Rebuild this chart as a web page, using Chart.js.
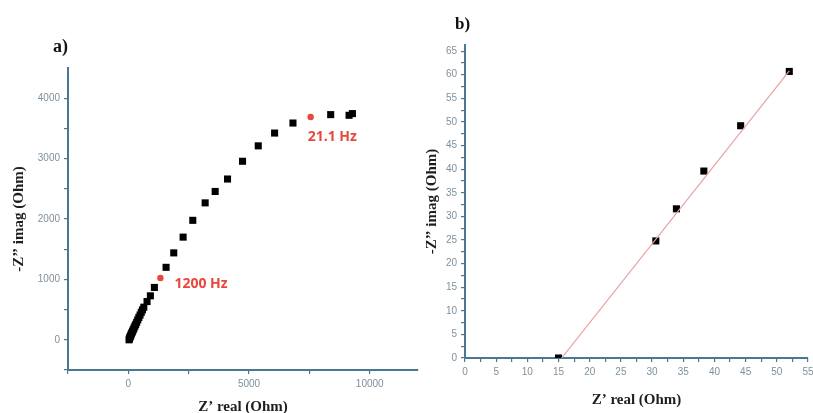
<!DOCTYPE html>
<html>
<head>
<meta charset="utf-8">
<script src="https://cdn.jsdelivr.net/npm/chart.js@4.4.1/dist/chart.umd.min.js"></script>
<style>
  html, body { margin: 0; padding: 0; background: #fff; overflow: hidden; }
  #wrap { position: relative; width: 813px; height: 413px; }
  canvas { position: absolute; top: 0; }
  #nyquist { left: 0; }
  #zoomed { left: 420px; }
</style>
</head>
<body>
<div id="wrap">
  <canvas id="nyquist" width="425" height="413"></canvas>
  <canvas id="zoomed" width="393" height="413"></canvas>
</div>
<script>
// panel a) full Nyquist plot, values in Ohm
const realA = [30, 45, 60, 80, 100, 125, 150, 175, 205, 235, 270, 305, 345, 390, 435, 485, 535, 585, 640,
               775, 913, 1079, 1563, 1881, 2269, 2670, 3182, 3597, 4109, 4731, 5382, 6059, 6820,
               8383, 9144, 9283];
const imagA = [0, 18, 35, 55, 75, 98, 120, 142, 168, 195, 225, 255, 290, 330, 370, 410, 455, 495, 540,
               633, 728, 867, 1200, 1439, 1700, 1978, 2267, 2456, 2662, 2956, 3211, 3423, 3589,
               3728, 3717, 3745];
// marked frequencies
const markLabels = ['1200 Hz', '21.1 Hz'];
const markReal = [1328, 7553];
const markImag = [1022, 3689];

// panel b) high frequency part with fit line
const realB = [15, 30.6, 33.9, 38.3, 44.2, 52];
const imagB = [0, 24.8, 31.6, 39.6, 49.2, 60.7];
const fitReal = [15.5, 52];
const fitImag = [0, 60.8];

// tick positions (labelled ones are the majors)
const ticksXA = [-2500, 0, 2500, 5000, 7500, 10000];
const majorsXA = [0, 5000, 10000];
const ticksYA = [-500, 0, 500, 1000, 1500, 2000, 2500, 3000, 3500, 4000];
const majorsYA = [0, 1000, 2000, 3000, 4000];
const ticksB = [0, 2.5, 5, 7.5, 10, 12.5, 15, 17.5, 20, 22.5, 25, 27.5, 30, 32.5, 35, 37.5, 40,
                42.5, 45, 47.5, 50, 52.5, 55, 57.5, 60, 62.5, 65];
const majorsB = [0, 5, 10, 15, 20, 25, 30, 35, 40, 45, 50, 55, 60, 65];

const axisColor = '#4a7890';
const tickColor = '#7f909c';
const red = '#e8473c';

const toPoints = (xs, ys) => xs.map((x, i) => ({x: x, y: ys[i]}));

// draws fixed text labels (panel letters) and annotations next to data points
const textPlugin = {
    id: 'texts',
    afterDatasetsDraw(chart, args, opts) {
        const ctx = chart.ctx;
        ctx.save();
        (opts.items || []).forEach(item => {
            let x = item.x, y = item.y;
            if (item.dataX !== undefined) {
                x = chart.scales.x.getPixelForValue(item.dataX) + item.dx;
                y = chart.scales.y.getPixelForValue(item.dataY) + item.dy;
            }
            ctx.font = item.font;
            ctx.fillStyle = item.color;
            ctx.textAlign = 'left';
            ctx.textBaseline = 'middle';
            ctx.fillText(item.text, x, y);
        });
        ctx.restore();
    }
};

const axis = (min, max, tickList, majors, title, titlePad, titleLh, fixSize, horizontal) => ({
    type: 'linear',
    min: min,
    max: max,
    border: {display: true, color: axisColor, width: 2},
    grid: {drawOnChartArea: false, drawTicks: true, tickLength: 4, color: axisColor, lineWidth: 1.2},
    afterBuildTicks(scale) {
        scale.ticks = tickList.filter(v => v >= min && v <= max).map(v => ({value: v}));
    },
    ticks: {
        autoSkip: false,
        maxRotation: 0,
        padding: 4,
        color: tickColor,
        font: {family: 'Liberation Sans', size: 10},
        callback: v => (majors.includes(v) ? String(v) : '')
    },
    title: {
        display: true,
        text: title,
        color: '#1e1e1e',
        font: {family: 'Liberation Serif', size: 15, weight: 'bold', lineHeight: titleLh},
        padding: {top: titlePad, bottom: titlePad}
    },
    afterFit(scale) {
        if (horizontal) scale.height = fixSize; else scale.width = fixSize;
        scale.paddingLeft = 0;
        scale.paddingRight = 0;
        scale.paddingTop = 0;
        scale.paddingBottom = 0;
    }
});

new Chart(document.getElementById('nyquist').getContext('2d'), {
    type: 'scatter',
    data: {
        datasets: [
            {
                data: toPoints(realA, imagA),
                pointStyle: 'rect',
                pointRadius: 5,
                backgroundColor: '#000',
                borderColor: '#000',
                borderWidth: 0
            },
            {
                data: toPoints(markReal, markImag),
                pointStyle: 'circle',
                pointRadius: 3.2,
                backgroundColor: red,
                borderColor: red,
                borderWidth: 0
            }
        ]
    },
    options: {
        responsive: false,
        animation: false,
        devicePixelRatio: 1,
        layout: {padding: {left: 0, top: 68, right: 7, bottom: 0}},
        plugins: {
            legend: {display: false},
            tooltip: {enabled: false},
            texts: {
                items: [
                    {text: 'a)', x: 53, y: 47, font: 'bold 18px "Liberation Serif"', color: '#111'},
                    {text: markLabels[0], dataX: markReal[0], dataY: markImag[0], dx: 14, dy: 6,
                     font: 'bold 14px "Open Sans"', color: red},
                    {text: markLabels[1], dataX: markReal[1], dataY: markImag[1], dx: -3, dy: 20,
                     font: 'bold 14px "Open Sans"', color: red}
                ]
            }
        },
        scales: {
            x: axis(-2500, 12000, ticksXA, majorsXA, 'Z\u2019 real (Ohm)', 0, 0.8, 43, true),
            y: axis(-500, 4500, ticksYA, majorsYA, '-Z\u2019\u2019 imag (Ohm)', 11, 1.1, 68, false)
        }
    },
    plugins: [textPlugin]
});

new Chart(document.getElementById('zoomed').getContext('2d'), {
    type: 'scatter',
    data: {
        datasets: [
            {
                type: 'line',
                data: toPoints(fitReal, fitImag),
                borderColor: '#e8a0a4',
                borderWidth: 1.2,
                pointRadius: 0,
                fill: false
            },
            {
                data: toPoints(realB, imagB),
                pointStyle: 'rect',
                pointRadius: 5,
                backgroundColor: '#000',
                borderColor: '#000',
                borderWidth: 0
            }
        ]
    },
    options: {
        responsive: false,
        animation: false,
        devicePixelRatio: 1,
        layout: {padding: {left: 0, top: 45, right: 0, bottom: 0}},
        plugins: {
            legend: {display: false},
            tooltip: {enabled: false},
            texts: {
                items: [
                    {text: 'b)', x: 35, y: 25, font: 'bold 17px "Liberation Serif"', color: '#111'}
                ]
            }
        },
        scales: {
            x: axis(0, 55, ticksB, majorsB, 'Z\u2019 real (Ohm)', 5, 1.1, 55, true),
            y: axis(0, 66.3, ticksB, majorsB, '-Z\u2019\u2019 imag (Ohm)', 4, 1.1, 45, false)
        }
    },
    plugins: [textPlugin]
});
</script>
</body>
</html>
